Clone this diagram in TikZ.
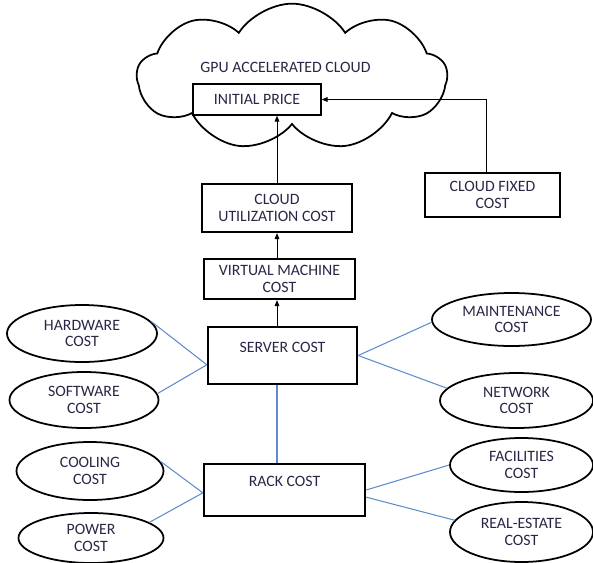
\documentclass[tikz,border=0pt]{standalone}
\usepackage{fontspec}
\setmainfont{Carlito}
\usepackage{xcolor}
\usepackage{tikz}
\usetikzlibrary{arrows.meta,calc,shapes.geometric,shapes.symbols}
\definecolor{txtcol}{RGB}{40,40,70}
\definecolor{linkcol}{RGB}{95,140,205}
\tikzset{
  box/.style     ={draw, rectangle, line width=2pt, align=center, inner sep=0pt, text=txtcol},
  toptxt/.style  ={text depth=14pt},
  oval/.style    ={draw, ellipse, line width=1.5pt, align=center, inner sep=0pt, text=txtcol},
  arr/.style     ={-{Triangle[length=5pt,width=4pt]}, line width=0.7pt},
  link/.style    ={draw=linkcol, line width=0.9pt},
}
\begin{document}
\begin{tikzpicture}[x=0.03cm, y=-0.03cm, font=\fontsize{13.5}{14}\selectfont]
  \useasboundingbox (0,0) rectangle (593,562);

  % cloud with the price box
  \node[cloud, draw, line width=1.5pt, cloud puffs=9, cloud puff arc=115, aspect=2.5,
        minimum width=9.3cm, minimum height=4.4cm] (cld) at (292,77) {};
  \node[text=txtcol] (cldtxt) at (285.5,67) {GPU ACCELERATED CLOUD};
  \node[box, line width=1.2pt, minimum width=3.84cm, minimum height=0.93cm] (ip) at (257,99.5) {INITIAL PRICE};

  % main column
  \node[box, minimum width=4.5cm,  minimum height=1.44cm] (cu)   at (277,208)   {CLOUD\\UTILIZATION COST};
  \node[box, minimum width=4.53cm, minimum height=1.2cm]  (vm)   at (279.5,279) {VIRTUAL MACHINE\\COST};
  \node[box, minimum width=4.05cm, minimum height=1.32cm] (cfc)  at (492.5,195) {CLOUD FIXED\\COST};
  \node[box, toptxt, minimum width=4.47cm, minimum height=1.71cm] (srv)  at (282.5,355.5) {SERVER COST};
  \node[box, toptxt, minimum width=4.83cm, minimum height=1.56cm] (rack) at (284.5,490) {RACK COST};

  % cost ovals
  \node[oval, minimum width=4.5cm,  minimum height=1.71cm] (hw)    at (82,333.5)  {HARDWARE\\COST};
  \node[oval, minimum width=4.47cm, minimum height=1.68cm] (sw)    at (84,400)    {SOFTWARE\\COST};
  \node[oval, minimum width=4.41cm, minimum height=1.74cm] (cool)  at (90,471)    {COOLING\\COST};
  \node[oval, minimum width=4.35cm, minimum height=1.5cm]  (pow)   at (91,538)    {POWER\\COST};
  \node[oval, minimum width=4.77cm, minimum height=1.59cm] (maint) at (511.5,319.5) {MAINTENANCE\\COST};
  \node[oval, minimum width=4.59cm, minimum height=1.65cm] (net)   at (516.5,400.5) {NETWORK\\COST};
  \node[oval, minimum width=4.29cm, minimum height=1.62cm] (fac)   at (521.5,465)   {FACILITIES\\COST};
  \node[oval, minimum width=4.29cm, minimum height=1.8cm]  (re)    at (521.5,532)   {REAL-ESTATE\\COST};

  % arrows up to the price
  \draw[arr] (srv.north -| cu) -- (vm.south -| cu);
  \draw[arr] (vm.north -| cu) -- (cu.south);
  \draw[arr] (cu.north) -- (ip.south -| cu);
  \draw[arr] ([xshift=-5.5]cfc.north) |- (ip.east);

  % blue links
  \draw[link] (hw.10) -- (srv.187);
  \draw[link] (sw.5) -- (srv.187);
  \draw[link] (maint.182) -- (srv.east);
  \draw[link] (net.170) -- (srv.east);
  \draw[link] (srv.south -| cu) -- (rack.north -| cu);
  \draw[link] (cool.8) -- (rack.182);
  \draw[link] (pow.15) -- (rack.182);
  \draw[link] (fac.west) -- (rack.east);
  \draw[link] (re.170) -- (rack.355);
\end{tikzpicture}
\end{document}
